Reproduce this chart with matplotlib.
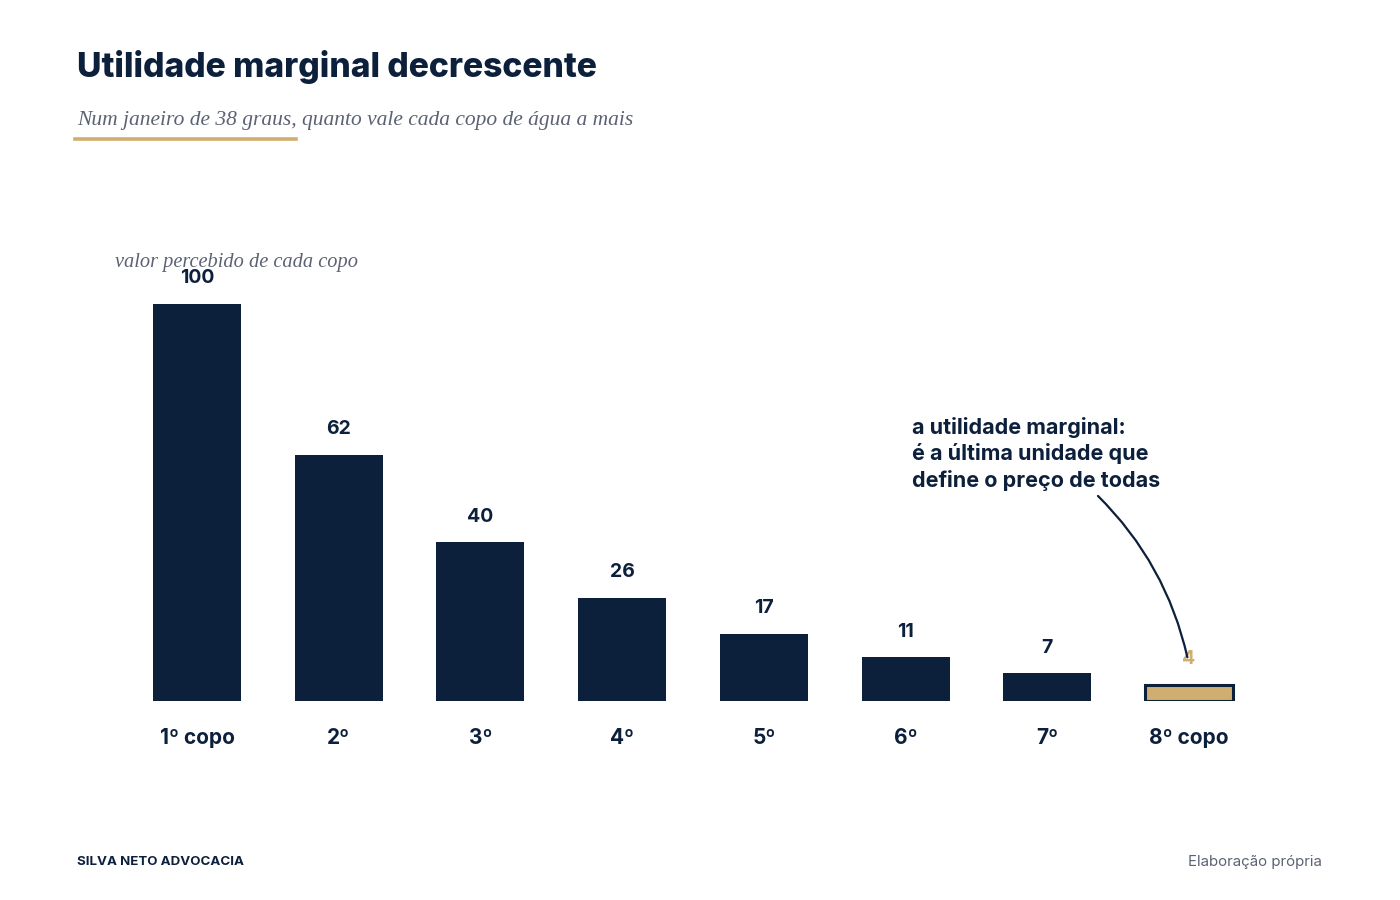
import matplotlib
matplotlib.use("Agg")
import matplotlib.pyplot as plt
from matplotlib.patches import FancyArrowPatch

categorias = ["1º copo", "2º", "3º", "4º", "5º", "6º", "7º", "8º copo"]
valores = [100, 62, 40, 26, 17, 11, 7, 4]

NAVY = "#0c1f3b"
GOLD = "#cfae70"
GRAY = "#5b6273"
SANS = ["Inter", "DejaVu Sans"]
SERIF = ["Liberation Serif", "DejaVu Serif"]

W, H = 1400, 900
fig = plt.figure(figsize=(14, 9), dpi=100)
fig.patch.set_facecolor("white")

def fx(px):
    return px / W

def fy(py):
    return 1 - py / H

# axes: baseline at y=701px, bar centers 197..1189
step = (1189 - 197) / 7
left = 197 - step / 2
ax = fig.add_axes([fx(left), fy(701), fx(8 * step), (701 - 264.3) / H])
ax.set_xlim(-0.5, 7.5)
ax.set_ylim(0, 110)
ax.axis("off")

x = list(range(len(valores)))
cores = [NAVY] * (len(valores) - 1) + [GOLD]
bars = ax.bar(x, valores, width=0.62, color=cores, edgecolor=NAVY, linewidth=0)
bars[-1].set_linewidth(2.2)

for xi, v in zip(x, valores):
    cor = GOLD if xi == len(valores) - 1 else NAVY
    ax.annotate(str(v), (xi, v), xytext=(0, 18.5), textcoords="offset points",
                ha="center", va="center", fontsize=14, fontweight="bold",
                color=cor, family=SANS)

for xi, c in zip(x, categorias):
    ax.text(xi, -9.2, c, ha="center", va="center", fontsize=15, fontweight="bold",
            color=NAVY, family=SANS)

# title and subtitle
fig.text(fx(77), fy(77), "Utilidade marginal decrescente", fontsize=24.3,
         fontweight=800, color=NAVY, family=SANS, va="baseline")
fig.text(fx(77), fy(125), "Num janeiro de 38 graus, quanto vale cada copo de água a mais",
         fontsize=15.5, style="italic", color=GRAY, family=SERIF, va="baseline")
fig.add_artist(plt.Line2D([fx(75), fx(296)], [fy(139), fy(139)], color=GOLD, lw=2.6))

fig.text(fx(115), fy(262), "valor percebido de cada copo", fontsize=14.7,
         style="italic", color=GRAY, family=SERIF, va="center")

# annotation
fig.text(fx(912), fy(454), "a utilidade marginal:\né a última unidade que\ndefine o preço de todas",
         fontsize=15.5, fontweight="bold", color=NAVY, family=SANS, va="center",
         linespacing=1.3)
arco = FancyArrowPatch((fx(1096), fy(494)), (fx(1188), fy(660)),
                       transform=fig.transFigure, arrowstyle="-",
                       connectionstyle="arc3,rad=-0.15", color=NAVY, lw=1.6)
fig.add_artist(arco)

# footer
fig.text(fx(77), fy(862), "SILVA NETO ADVOCACIA", fontsize=9.6, fontweight="bold",
         color=NAVY, family=SANS, va="center")
fig.text(fx(1322), fy(862), "Elaboração própria", fontsize=10.8, color=GRAY,
         family=SANS, va="center", ha="right")

fig.savefig("out.png", dpi=100, facecolor="white")
